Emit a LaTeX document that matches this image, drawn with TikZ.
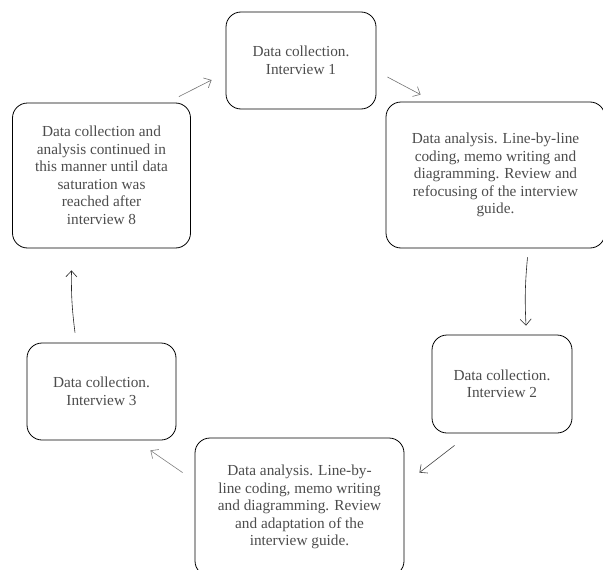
\documentclass[tikz,border=0pt]{standalone}
\usepackage{fontspec}
\setmainfont{Liberation Serif}
\usetikzlibrary{positioning,arrows.meta}
\begin{document}
\begin{tikzpicture}[on grid, >={Straight Barb[length=6pt,width=11pt]},
        box/.style = {draw, line width=0.8pt, rounded corners=15pt, align=center, text=black!70,
                      font=\fontsize{15.3}{17.5}\selectfont, inner sep=0pt},
        flow/.style = {->, line width=0.6pt}]
        \useasboundingbox (0,0) rectangle (603pt,-570pt);

        \node (Interview1) [box, minimum width=150pt, minimum height=97pt] at (301pt,-60.5pt) {Data collection.\\Interview 1};
        \node (Analysis1) [box, minimum width=219pt, minimum height=146pt, below right = 114.5pt and 194.5pt of Interview1]
            {Data analysis. Line-by-line\\coding, memo writing and\\diagramming. Review and\\refocusing of the interview\\guide.};
        \node (Interview2) [box, minimum width=140pt, minimum height=98pt, below right = 209pt and 6.5pt of Analysis1] {Data collection.\\Interview 2};
        \node (Analysis2) [box, minimum width=209pt, minimum height=138pt, below left = 123pt and 202.5pt of Interview2]
            {Data analysis. Line-by-\\line coding, memo writing\\and diagramming. Review\\and adaptation of the\\interview guide.};
        \node (Interview3) [box, minimum width=149pt, minimum height=97pt, above left = 115.5pt and 198pt of Analysis2] {Data collection.\\Interview 3};
        \node (Saturation) [box, minimum width=178pt, minimum height=145pt, above = 216pt of Interview3]
            {Data collection and\\analysis continued in\\this manner until data\\saturation was\\reached after\\interview 8};

        \draw[flow, black!55] ([xshift=-12pt, yshift=6pt]Saturation.north east) -- ([xshift=-14pt, yshift=-19.5pt]Interview1.west);
        \draw[flow, black!55] ([xshift=11pt, yshift=-16.5pt]Interview1.east) -- ([xshift=35pt, yshift=7pt]Analysis1.north west);
        \draw[flow, black!85] ([xshift=32pt, yshift=-9pt]Analysis1.south) to[bend right=4] ([xshift=24pt, yshift=9pt]Interview2.north);
        \draw[flow, black!75] ([xshift=23pt, yshift=-12pt]Interview2.south west) -- ([xshift=15pt, yshift=-35pt]Analysis2.north east);
        \draw[flow, black!50] ([xshift=-12pt, yshift=-35pt]Analysis2.north west) -- ([xshift=-26pt, yshift=-10pt]Interview3.south east);
        \draw[flow, black!85] ([xshift=-26.5pt, yshift=10pt]Interview3.north) to[bend left=4] ([xshift=-30pt, yshift=-22pt]Saturation.south);
\end{tikzpicture}
\end{document}
